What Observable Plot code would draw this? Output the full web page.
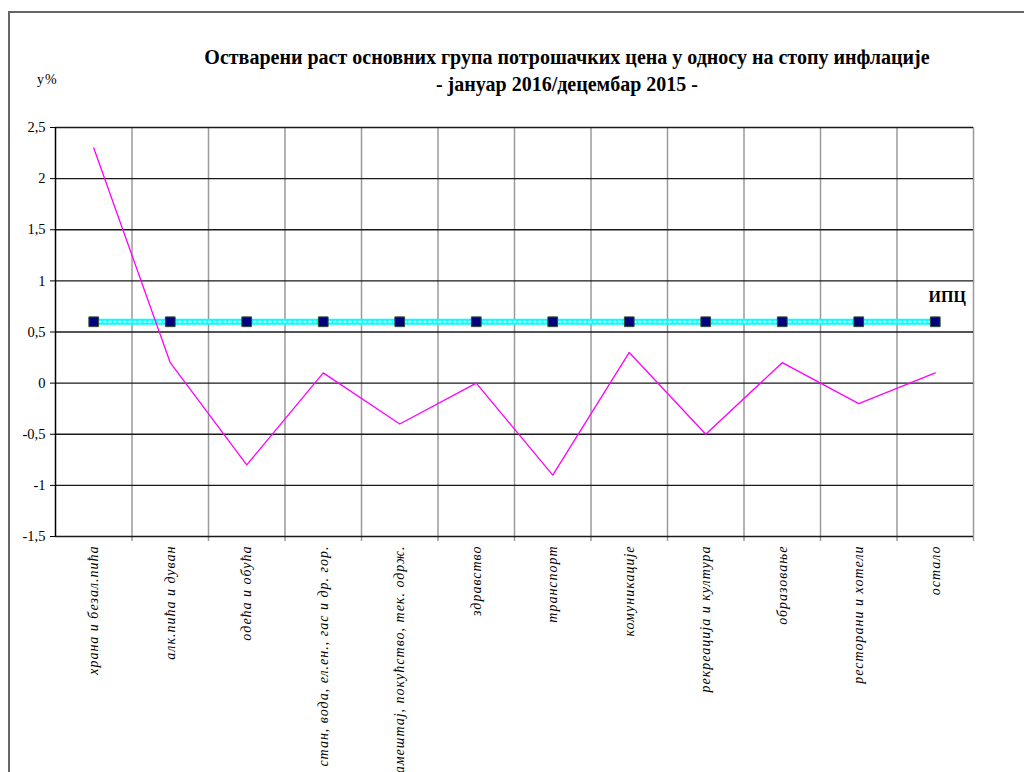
<!DOCTYPE html>
<html>
<head>
<meta charset="utf-8">
<script src="https://cdn.jsdelivr.net/npm/d3@7"></script>
<script src="https://cdn.jsdelivr.net/npm/@observablehq/plot@0.6"></script>
<style>
  html, body { margin: 0; padding: 0; background: #fff; overflow: hidden; width: 1024px; height: 772px; }
  #wrap { position: relative; width: 1024px; height: 772px; overflow: hidden; }
  #frame { position: absolute; left: 8px; top: 11px; width: 1100px; height: 900px; border-left: 2px solid #666; border-top: 2px solid #666; }
  #header { position: relative; height: 110px; font-family: "Liberation Serif", serif; }
  #title { position: absolute; left: 567px; top: 44px; transform: translateX(-50%); white-space: nowrap; text-align: center; font-weight: bold; font-size: 20px; line-height: 27px; color: #000; }
  #unit { position: absolute; left: 37px; top: 72px; font-size: 14px; color: #000; letter-spacing: 1px; }
  #chart { position: relative; }
  #chart svg text { font-size: 14.5px; }
  #chart svg g[aria-label="x-axis tick label"] text { letter-spacing: 1px; font-size: 14px; }
  #chart svg g[aria-label="text"] text { font-size: 16px; }
</style>
</head>
<body>
<div id="wrap">
  <div id="frame"></div>
  <div id="header">
    <div id="unit">у%</div>
    <div id="title">Остварени раст основних група потрошачких цена у односу на стопу инфлације<br>- јануар 2016/децембар 2015 -</div>
  </div>
  <div id="chart"></div>
</div>
<script>
const categories = [
  "храна и безал.пића",
  "алк.пића и дуван",
  "одећа и обућа",
  "стан, вода, ел.ен., гас и др. гор.",
  "намештај, покућство, тек. одрж.",
  "здравство",
  "транспорт",
  "комуникације",
  "рекреација и култура",
  "образовање",
  "ресторани и хотели",
  "остало"
];
const groupGrowth = [2.3, 0.2, -0.8, 0.1, -0.4, 0.0, -0.9, 0.3, -0.5, 0.2, -0.2, 0.1];
const cpiValue = [0.6, 0.6, 0.6, 0.6, 0.6, 0.6, 0.6, 0.6, 0.6, 0.6, 0.6, 0.6];
const yTicks = [-1.5, -1, -0.5, 0, 0.5, 1, 1.5, 2, 2.5];
const cpiLabel = ["ИПЦ"];

const rows = categories.map((c, i) => ({cat: c, growth: groupGrowth[i], cpi: cpiValue[i]}));

const W = 1024, H = 700;
const mL = 55, mR = 51, mT = 17, mB = 274;
const step = (W - mL - mR) / categories.length;

const chart = Plot.plot({
  width: W,
  height: H,
  marginLeft: mL,
  marginRight: mR,
  marginTop: mT,
  marginBottom: mB,
  style: {fontFamily: "Liberation Serif, serif", background: "transparent", color: "#000", fontSize: "14px"},
  x: {type: "point", domain: categories, padding: 0.5, round: false},
  y: {domain: [-1.5, 2.5]},
  marks: [
    // vertical category separators
    Plot.ruleX(categories, {x: d => d, dx: step / 2, stroke: "#9a9a9a", strokeWidth: 1.5, insetBottom: -5}),
    // horizontal gridlines
    Plot.ruleY(yTicks, {stroke: "#1a1a1a", strokeWidth: 1.4}),
    // left axis line
    Plot.ruleX([categories[0]], {x: d => d, dx: -step / 2, stroke: "#000", strokeWidth: 1.5}),
    Plot.axisY({ticks: yTicks, tickSize: 5, tickPadding: 5, tickFormat: d => String(d).replace(".", ","), label: null, stroke: "#000"}),
    Plot.axisX({tickSize: 0, tickPadding: 9, tickRotate: -90, fontStyle: "italic", label: null}),
    // CPI line
    Plot.lineY(rows, {x: "cat", y: "cpi", stroke: "#00ffff", strokeWidth: 6}),
    Plot.lineY(rows, {x: "cat", y: "cpi", stroke: "#c8ffff", strokeWidth: 2, strokeDasharray: "2,3"}),
    Plot.dot(rows, {x: "cat", y: "cpi", symbol: "square", r: 5.5, fill: "#000080", stroke: "#2f4f2f", strokeWidth: 1}),
    // group line
    Plot.lineY(rows, {x: "cat", y: "growth", stroke: "#ff00ff", strokeWidth: 1.3}),
    Plot.text(cpiLabel, {x: () => categories[categories.length - 1], y: () => cpiValue[cpiValue.length - 1], text: d => d, dx: 12, dy: -25, fontWeight: "bold", fill: "#000"})
  ]
});
document.getElementById("chart").appendChild(chart);
</script>
</body>
</html>
